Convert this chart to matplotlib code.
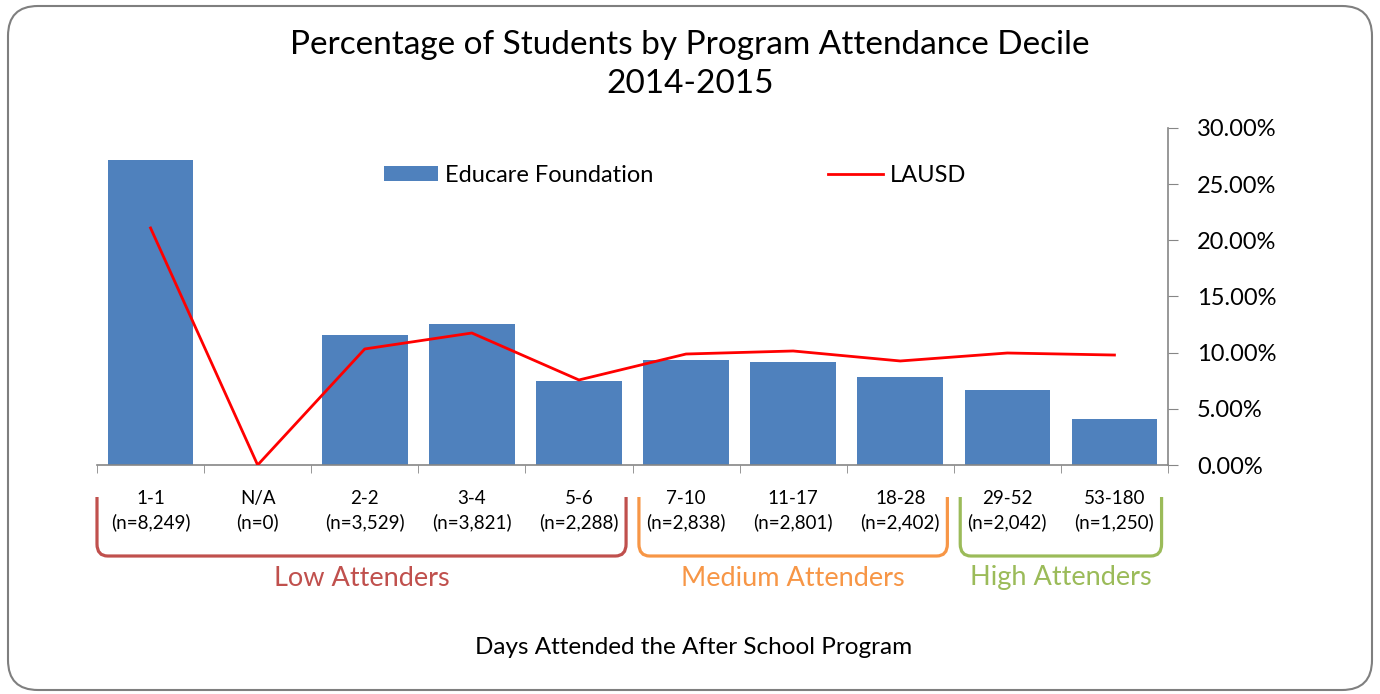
import matplotlib.pyplot as plt
from matplotlib.patches import FancyBboxPatch, PathPatch
from matplotlib.path import Path
from matplotlib.transforms import blended_transform_factory
from matplotlib.ticker import FuncFormatter

plt.rcParams['font.family'] = ['Lato', 'DejaVu Sans']

# data
days = ["1-1", "N/A", "2-2", "3-4", "5-6", "7-10", "11-17", "18-28", "29-52", "53-180"]
counts = ["8,249", "0", "3,529", "3,821", "2,288", "2,838", "2,801", "2,402", "2,042", "1,250"]
educare = [27.15, 0.0, 11.57, 12.55, 7.48, 9.35, 9.17, 7.83, 6.68, 4.09]
lausd = [21.1, 0.0, 10.33, 11.75, 7.57, 9.88, 10.15, 9.26, 9.97, 9.79]

groups = ["Low Attenders", "Medium Attenders", "High Attenders"]
group_span = [(0, 4), (5, 7), (8, 9)]
group_colors = ["#C0504D", "#F79646", "#9BBB59"]

fig = plt.figure(figsize=(13.8, 6.94), dpi=100)
ax = fig.add_axes([97 / 1380, 1 - 465 / 694, (1168 - 97) / 1380, (465 - 128) / 694])

x = list(range(len(days)))
bars = ax.bar(x, [v / 100 for v in educare], width=0.8, color="#4F81BD", label="Educare Foundation", zorder=2)
line, = ax.plot(x, [v / 100 for v in lausd], color="#FF0000", lw=2, label="LAUSD", zorder=3)

ax.set_xlim(-0.5, len(days) - 0.5)
ax.set_ylim(0, 0.30)
ax.set_yticks([i * 0.05 for i in range(7)])
ax.yaxis.set_major_formatter(FuncFormatter(lambda v, p: "%.2f%%" % (v * 100)))
ax.yaxis.tick_right()
ax.tick_params(axis="y", direction="out", length=7, color="#868686", labelsize=17, pad=14)

ax.set_xticks(x)
ax.set_xticklabels(["%s\n(n=%s)" % (d, c) for d, c in zip(days, counts)], fontsize=13.5, linespacing=1.45)
ax.set_xticks([i - 0.5 for i in range(len(days) + 1)], minor=True)
ax.tick_params(axis="x", which="major", length=0, pad=18)
ax.tick_params(axis="x", which="minor", direction="out", length=6, color="#868686")

for s in ["top", "left"]:
    ax.spines[s].set_visible(False)
for s in ["bottom", "right"]:
    ax.spines[s].set_color("#868686")
    ax.spines[s].set_linewidth(1.2)

ax.legend([bars, line], ["Educare Foundation", "LAUSD"], loc="center left",
          bbox_to_anchor=(287 / 1071, 1 - 47 / 337), ncol=2, frameon=False,
          fontsize=17, handlelength=2.3, handleheight=0.6, columnspacing=7.4, handletextpad=0.3,
          borderaxespad=0, borderpad=0)

# brackets under the labels
tr = blended_transform_factory(ax.transData, fig.transFigure)
top_y = 1 - 497 / 694
bot_y = 1 - 556 / 694
r = 12 / 694
for name, (a, b), col in zip(groups, group_span, group_colors):
    x0 = a - 0.5 + (0.0 if a == 0 else 0.06)
    x1 = b + 0.5 - 0.06
    rx = 0.1
    verts = [(x0, top_y), (x0, bot_y + r), (x0, bot_y), (x0 + rx, bot_y),
             (x1 - rx, bot_y), (x1, bot_y), (x1, bot_y + r), (x1, top_y)]
    codes = [Path.MOVETO, Path.LINETO, Path.CURVE3, Path.CURVE3,
             Path.LINETO, Path.CURVE3, Path.CURVE3, Path.LINETO]
    fig.add_artist(PathPatch(Path(verts, codes), transform=tr, fill=False,
                             edgecolor=col, lw=2.3, clip_on=False))
    ax.text((x0 + x1) / 2, 1 - 578 / 694, name, transform=tr, ha="center", va="center",
            fontsize=19.5, color=col)

fig.text(0.5, 1 - 45 / 694, "Percentage of Students by Program Attendance Decile",
         ha="center", va="center", fontsize=24)
fig.text(0.5, 1 - 84 / 694, "2014-2015", ha="center", va="center", fontsize=24)
fig.text(694 / 1380, 1 - 647 / 694, "Days Attended the After School Program",
         ha="center", va="center", fontsize=17.5)

fig.add_artist(FancyBboxPatch((8, 4), 1364, 684, boxstyle="round,pad=0,rounding_size=30",
                              transform=None, fill=False, edgecolor="#7F7F7F", lw=1.5))

fig.savefig("out.png", dpi=100)
